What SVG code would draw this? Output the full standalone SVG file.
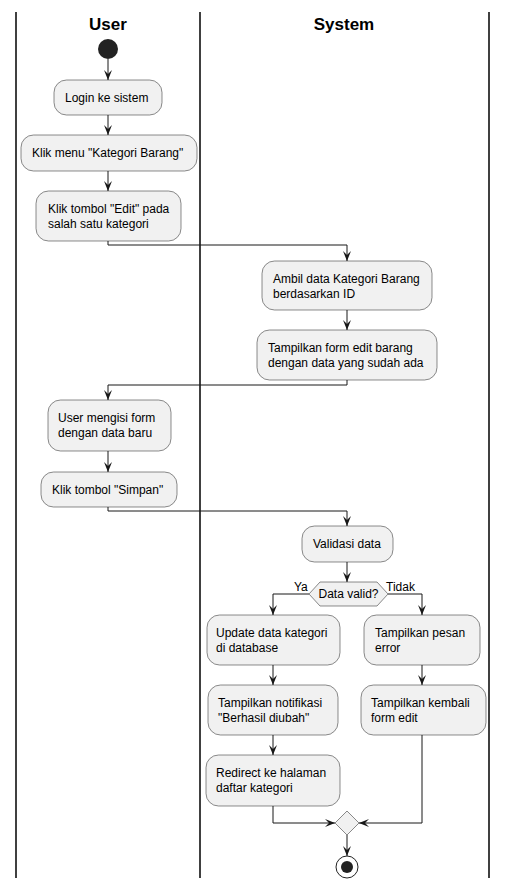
<svg xmlns="http://www.w3.org/2000/svg" width="507" height="888" viewBox="0 0 507 888">
<style>
.lane{stroke:#000;stroke-width:1.5;fill:none}
.title{font-family:"Liberation Sans",Arial,sans-serif;font-size:17px;font-weight:bold;fill:#000;text-anchor:middle}
.box{fill:#F1F1F1;stroke:#181818;stroke-width:0.5}
.t{font-family:"Liberation Sans",Arial,sans-serif;font-size:12px;fill:#000}
.c{stroke:#181818;stroke-width:1;fill:none;marker-end:url(#ah)}
</style>
<defs>
<marker id="ah" markerUnits="userSpaceOnUse" markerWidth="10" markerHeight="8" refX="10" refY="4" orient="auto">
<path d="M0,0 L10,4 L0,8 L4,4 Z" fill="#181818"/>
</marker>
</defs>
<rect width="507" height="888" fill="#fff"/>
<g id="lanes">
<line class="lane" x1="16" y1="12" x2="16" y2="878"/>
<line class="lane" x1="200" y1="12" x2="200" y2="878"/>
<line class="lane" x1="489" y1="12" x2="489" y2="878"/>
<text class="title" x="108" y="30">User</text>
<text class="title" x="344" y="30">System</text>
</g>
<g id="connectors">
<path class="c" d="M108,59 V80"/>
<path class="c" d="M108,115 V135"/>
<path class="c" d="M108,171 V191"/>
<path class="c" d="M108,241 V245 H347 V261"/>
<path class="c" d="M347,310 V330"/>
<path class="c" d="M347,380 V385 H108 V400"/>
<path class="c" d="M108,451 V472"/>
<path class="c" d="M108,507 V511 H347 V526"/>
<path class="c" d="M347,562 V582"/>
<path class="c" d="M309,594 H273 V615"/>
<path class="c" d="M388,594 H422 V615"/>
<path class="c" d="M273,665 V685"/>
<path class="c" d="M422,665 V685"/>
<path class="c" d="M273,735 V755"/>
<path class="c" d="M273,806 V823 H335"/>
<path class="c" d="M422,735 V823 H359"/>
<path class="c" d="M347,835 V856"/>
<text class="t" x="294" y="591" font-size="11">Ya</text>
<text class="t" x="386" y="591" font-size="11">Tidak</text>
</g>
<g id="start"><circle cx="108" cy="49" r="10" fill="#222"/></g>
<g id="login"><rect class="box" x="54" y="80" width="108" height="35" rx="12.5"/><text class="t" x="65" y="102">Login ke sistem</text></g>
<g id="menu"><rect class="box" x="21" y="135" width="176" height="36" rx="12.5"/><text class="t" x="32" y="157">Klik menu "Kategori Barang"</text></g>
<g id="edit"><rect class="box" x="36" y="191" width="145" height="50" rx="12.5"/><text class="t" x="48" y="213">Klik tombol "Edit" pada</text><text class="t" x="48" y="228">salah satu kategori</text></g>
<g id="ambil"><rect class="box" x="262" y="261" width="170" height="49" rx="12.5"/><text class="t" x="273" y="283">Ambil data Kategori Barang</text><text class="t" x="273" y="298">berdasarkan ID</text></g>
<g id="formedit"><rect class="box" x="257" y="330" width="180" height="50" rx="12.5"/><text class="t" x="268" y="352">Tampilkan form edit barang</text><text class="t" x="268" y="367">dengan data yang sudah ada</text></g>
<g id="isi"><rect class="box" x="48" y="400" width="123" height="51" rx="12.5"/><text class="t" x="58" y="422">User mengisi form</text><text class="t" x="58" y="437">dengan data baru</text></g>
<g id="simpan"><rect class="box" x="41" y="472" width="136" height="35" rx="12.5"/><text class="t" x="52" y="494">Klik tombol "Simpan"</text></g>
<g id="validasi"><rect class="box" x="302" y="526" width="91" height="36" rx="12.5"/><text class="t" x="313" y="548">Validasi data</text></g>
<g id="decision"><polygon class="box" points="309,594 320,582 377,582 388,594 377,606 320,606"/><text class="t" x="348.5" y="598" font-size="11" text-anchor="middle">Data valid?</text></g>
<g id="update"><rect class="box" x="207" y="615" width="133" height="50" rx="12.5"/><text class="t" x="216" y="637">Update data kategori</text><text class="t" x="216" y="652">di database</text></g>
<g id="pesan"><rect class="box" x="364" y="615" width="116" height="50" rx="12.5"/><text class="t" x="375" y="637">Tampilkan pesan</text><text class="t" x="375" y="652">error</text></g>
<g id="notif"><rect class="box" x="208" y="685" width="130" height="50" rx="12.5"/><text class="t" x="218" y="707">Tampilkan notifikasi</text><text class="t" x="218" y="722">"Berhasil diubah"</text></g>
<g id="kembali"><rect class="box" x="361" y="685" width="125" height="50" rx="12.5"/><text class="t" x="371" y="707">Tampilkan kembali</text><text class="t" x="371" y="722">form edit</text></g>
<g id="redirect"><rect class="box" x="206" y="755" width="134" height="51" rx="12.5"/><text class="t" x="216" y="777">Redirect ke halaman</text><text class="t" x="216" y="792">daftar kategori</text></g>
<g id="merge"><polygon class="box" points="347,811 359,823 347,835 335,823"/></g>
<g id="end"><circle cx="347" cy="867" r="11" fill="none" stroke="#222" stroke-width="1"/><circle cx="347" cy="867" r="6" fill="#222"/></g>
</svg>
